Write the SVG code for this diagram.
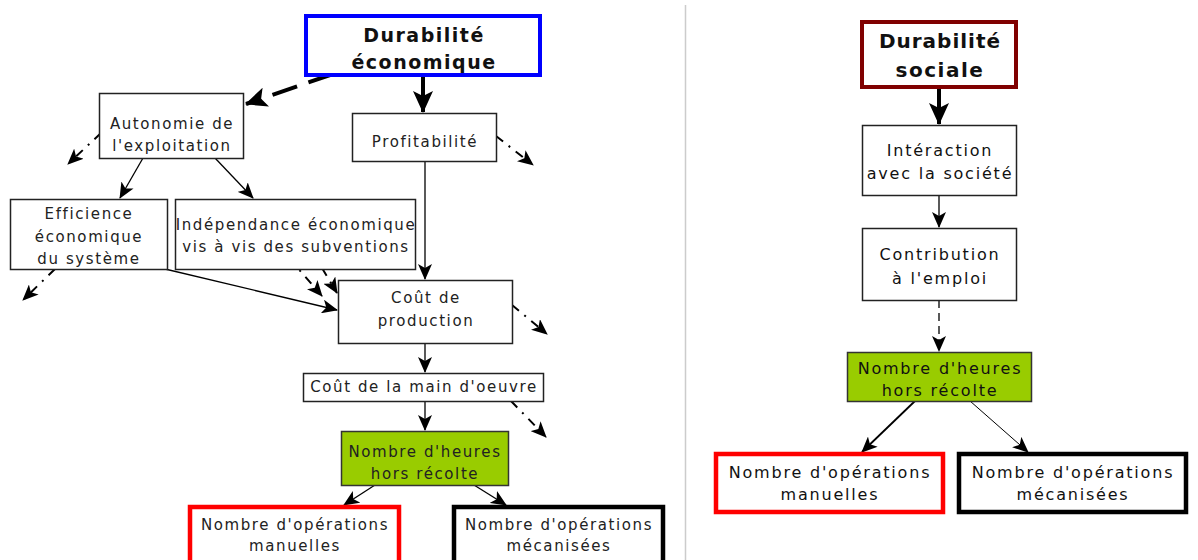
<svg xmlns="http://www.w3.org/2000/svg" width="1198" height="560" viewBox="0 0 1198 560">
<defs>
<marker id="ah" markerUnits="userSpaceOnUse" markerWidth="16" markerHeight="14" refX="15" refY="7" orient="auto" viewBox="0 0 16 14">
<path d="M0,0 L16,7 L0,14 L4,7 z" fill="#000"/>
</marker>
<marker id="ahb" markerUnits="userSpaceOnUse" markerWidth="22" markerHeight="20" refX="21" refY="10" orient="auto" viewBox="0 0 22 20">
<path d="M0,0 L22,10 L0,20 L5,10 z" fill="#000"/>
</marker>
<style>
.box{fill:#fff;stroke:#222;stroke-width:1.5}
.t{font-family:"DejaVu Sans",Verdana,sans-serif;font-size:15px;letter-spacing:1.6px;fill:#222;text-anchor:middle}
.tr{font-family:"DejaVu Sans",Verdana,sans-serif;font-size:16px;letter-spacing:1.8px;fill:#111;text-anchor:middle}
.tb{font-family:"DejaVu Sans",Verdana,sans-serif;font-size:19px;letter-spacing:1.5px;font-weight:bold;fill:#111;text-anchor:middle}
.c{fill:none;stroke:#000;stroke-width:1.3;marker-end:url(#ah)}
.cb{fill:none;stroke:#000;stroke-width:4;marker-end:url(#ahb)}
.dd{fill:none;stroke:#000;stroke-width:2;stroke-dasharray:9 7 2 7;marker-end:url(#ah)}
.green{fill:#99cc00;stroke:#333;stroke-width:1.5}
.red{fill:#fff;stroke:#ff0000;stroke-width:4.5}
.blk{fill:#fff;stroke:#000;stroke-width:4.5}
</style>
</defs>
<rect width="1198" height="560" fill="#fff"/>
<line x1="685.5" y1="5" x2="685.5" y2="560" stroke="#cccccc" stroke-width="1.5"/>

<g id="connectors">
<path class="cb" d="M333,74 L246,104" stroke-dasharray="26 12"/>
<path class="cb" d="M423,77 L423,112"/>
<path class="c" d="M143,158 L120,198"/>
<path class="c" d="M215,158 L253,198"/>
<path class="c" d="M425,161 L425,279"/>
<path class="c" d="M165,269 L337,310"/>
<path class="dd" d="M289,258 L322,296" stroke-dasharray="7 7 2 7"/>
<path class="dd" d="M322,268 L337,293" stroke-dasharray="6 4"/>
<path class="c" d="M425,343 L425,372"/>
<path class="c" d="M425,401 L425,430"/>
<path class="c" d="M375,485 L344,505"/>
<path class="c" d="M474,485 L506,505"/>
<path class="dd" d="M101,133 L68,164"/>
<path class="dd" d="M496,136 L533,165"/>
<path class="dd" d="M55,269 L23,300"/>
<path class="dd" d="M512,305 L547,334"/>
<path class="dd" d="M511,401 L546,437"/>
<path class="cb" d="M939,89 L939,124"/>
<path class="c" d="M939,195 L939,227"/>
<path class="c" d="M939,300 L939,351" stroke-dasharray="8 5"/>
<path class="c" d="M915,401 L862,452" style="stroke-width:1.8"/>
<path class="c" d="M970,401 L1028,452" style="stroke-width:1"/>
</g>

<g id="durabilite-economique">
<rect x="306" y="16" width="234" height="59" fill="#fff" stroke="#0000ff" stroke-width="4"/>
<text class="tb" x="424" y="42">Durabilité</text>
<text class="tb" x="424" y="69">économique</text>
</g>
<g id="autonomie">
<rect class="box" x="99.5" y="93.5" width="144" height="65"/>
<text class="t" x="172" y="129">Autonomie de</text>
<text class="t" x="172" y="151">l'exploitation</text>
</g>
<g id="profitabilite">
<rect class="box" x="352.5" y="113.5" width="144" height="48"/>
<text class="t" x="425" y="147">Profitabilité</text>
</g>
<g id="efficience">
<rect class="box" x="10.5" y="199.5" width="157" height="70"/>
<text class="t" x="89" y="219">Efficience</text>
<text class="t" x="89" y="242">économique</text>
<text class="t" x="89" y="264">du système</text>
</g>
<g id="independance">
<rect class="box" x="175.5" y="199.5" width="240" height="70"/>
<text class="t" x="296" y="230">Indépendance économique</text>
<text class="t" x="296" y="252">vis à vis des subventions</text>
</g>
<g id="cout-production">
<rect class="box" x="338.5" y="280.5" width="174" height="63"/>
<text class="t" x="426" y="303">Coût de</text>
<text class="t" x="426" y="326">production</text>
</g>
<g id="cout-main-oeuvre">
<rect class="box" x="303.5" y="373.5" width="240" height="28"/>
<text class="t" x="424" y="392">Coût de la main d'oeuvre</text>
</g>
<g id="heures-gauche">
<rect class="green" x="341.5" y="431.5" width="167" height="54"/>
<text class="t" x="425" y="457">Nombre d'heures</text>
<text class="t" x="425" y="479">hors récolte</text>
</g>
<g id="manuelles-gauche">
<rect class="red" x="190" y="507" width="209" height="60"/>
<text class="t" x="295" y="530">Nombre d'opérations</text>
<text class="t" x="295" y="551">manuelles</text>
</g>
<g id="mecanisees-gauche">
<rect class="blk" x="454" y="507" width="209" height="60"/>
<text class="t" x="559" y="530">Nombre d'opérations</text>
<text class="t" x="559" y="551">mécanisées</text>
</g>

<g id="durabilite-sociale">
<rect x="862" y="22" width="154" height="65" fill="#fff" stroke="#800000" stroke-width="4"/>
<text class="tb" x="940" y="48" style="font-size:20px;letter-spacing:1px">Durabilité</text>
<text class="tb" x="940" y="77" style="font-size:20px;letter-spacing:1.5px">sociale</text>
</g>
<g id="interaction">
<rect class="box" x="862.5" y="125.5" width="154" height="70"/>
<text class="tr" x="940" y="156">Intéraction</text>
<text class="tr" x="940" y="179">avec la société</text>
</g>
<g id="contribution">
<rect class="box" x="862.5" y="228.5" width="154" height="72"/>
<text class="tr" x="940" y="260">Contribution</text>
<text class="tr" x="940" y="284">à l'emploi</text>
</g>
<g id="heures-droite">
<rect class="green" x="847.5" y="352.5" width="184" height="49"/>
<text class="tr" x="940" y="374">Nombre d'heures</text>
<text class="tr" x="940" y="396">hors récolte</text>
</g>
<g id="manuelles-droite">
<rect class="red" x="716" y="454" width="227" height="58"/>
<text class="tr" x="830" y="478">Nombre d'opérations</text>
<text class="tr" x="830" y="500">manuelles</text>
</g>
<g id="mecanisees-droite">
<rect class="blk" x="959" y="454" width="227" height="58"/>
<text class="tr" x="1073" y="478">Nombre d'opérations</text>
<text class="tr" x="1073" y="500">mécanisées</text>
</g>
</svg>
